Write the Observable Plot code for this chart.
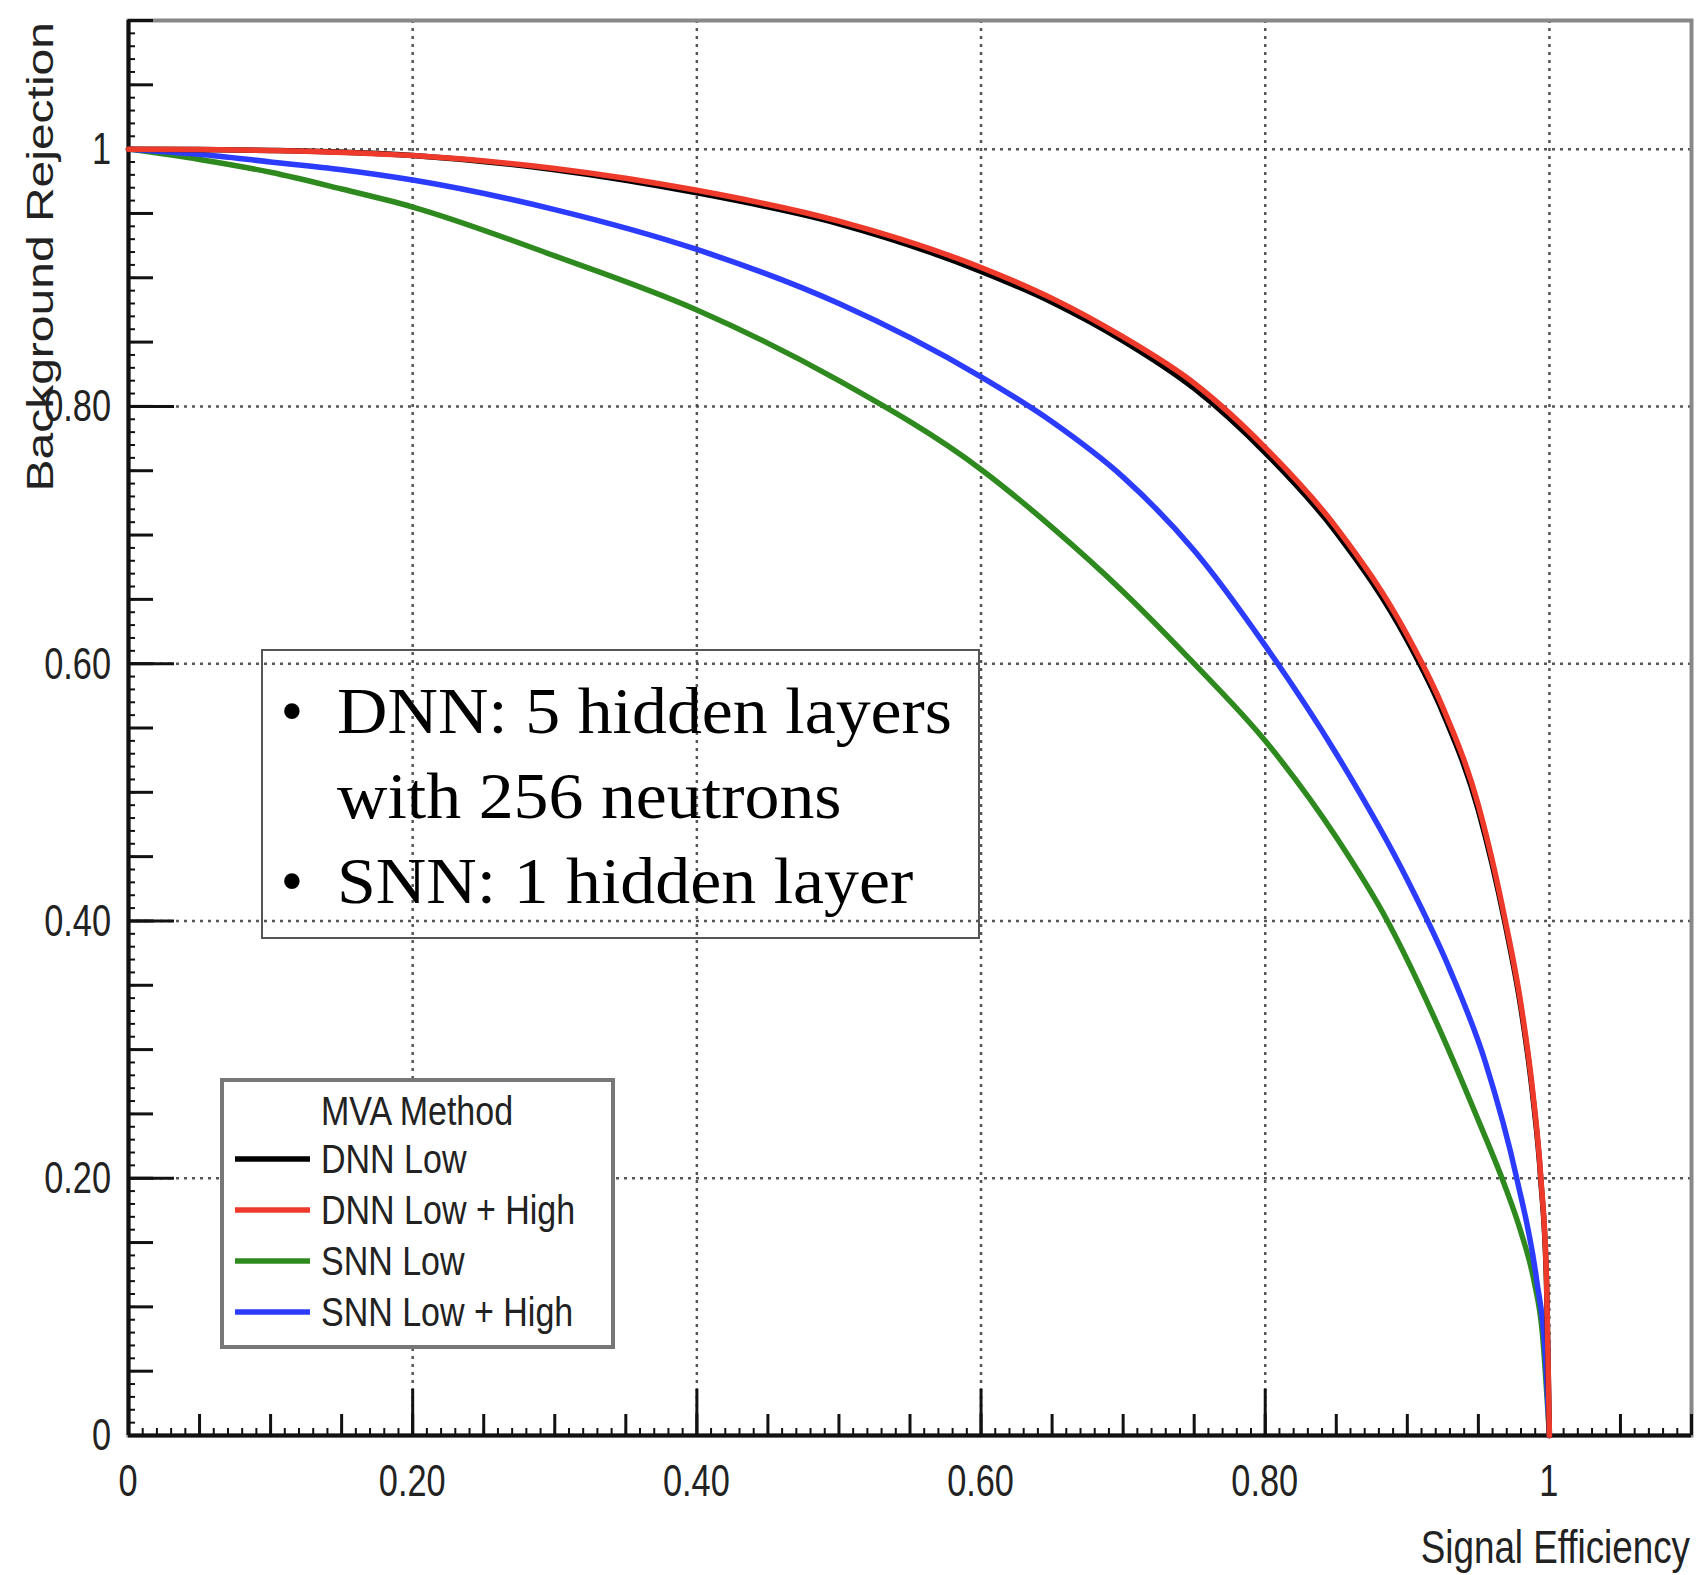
<!DOCTYPE html>
<html>
<head>
<meta charset="utf-8">
<script src="https://cdn.jsdelivr.net/npm/d3@7"></script>
<script src="https://cdn.jsdelivr.net/npm/@observablehq/plot@0.6"></script>
<style>
  html, body { margin: 0; padding: 0; background: #fff; }
  #chart { width: 1696px; height: 1575px; }
</style>
</head>
<body>
<div id="chart"></div>
<script>
// ---- data ----
const seriesNames = ["SNN Low", "SNN Low + High", "DNN Low", "DNN Low + High"];
const seriesColors = ["#2e8a1e", "#2b3cff", "#000000", "#ee3a2a"];
const legendOrder = ["DNN Low", "DNN Low + High", "SNN Low", "SNN Low + High"];
const legendTitle = "MVA Method";

const effDNNLow  = [0, 0.05, 0.10, 0.20, 0.30, 0.40, 0.50, 0.60, 0.65, 0.70, 0.75, 0.80, 0.85, 0.90, 0.925, 0.95, 0.969, 0.98, 0.988, 0.994, 0.998, 1.0];
const rejDNNLow  = [1.0, 0.9998, 0.999, 0.995, 0.984, 0.966, 0.942, 0.905, 0.881, 0.851, 0.814, 0.764, 0.702, 0.618, 0.562, 0.486, 0.397, 0.332, 0.267, 0.198, 0.118, 0.0];
const effDNNHigh = [0, 0.05, 0.10, 0.20, 0.30, 0.40, 0.50, 0.60, 0.65, 0.70, 0.75, 0.80, 0.85, 0.90, 0.925, 0.95, 0.969, 0.98, 0.988, 0.994, 0.998, 1.0];
const rejDNNHigh = [1.0, 0.9998, 0.999, 0.995, 0.985, 0.968, 0.944, 0.908, 0.884, 0.854, 0.818, 0.768, 0.706, 0.622, 0.566, 0.490, 0.400, 0.335, 0.270, 0.200, 0.120, 0.0];
const effSNNLow  = [0, 0.05, 0.10, 0.15, 0.20, 0.30, 0.40, 0.50, 0.60, 0.65, 0.70, 0.75, 0.80, 0.85, 0.886, 0.923, 0.95, 0.968, 0.98, 0.989, 0.995, 1.0];
const rejSNNLow  = [1.0, 0.992, 0.982, 0.969, 0.955, 0.917, 0.875, 0.820, 0.751, 0.706, 0.656, 0.600, 0.540, 0.465, 0.400, 0.315, 0.245, 0.196, 0.158, 0.121, 0.080, 0.0];
const effSNNHigh = [0, 0.05, 0.10, 0.15, 0.20, 0.30, 0.40, 0.50, 0.60, 0.65, 0.70, 0.75, 0.80, 0.85, 0.90, 0.93, 0.955, 0.977, 0.991, 0.997, 1.0];
const rejSNNHigh = [1.0, 0.996, 0.990, 0.984, 0.976, 0.953, 0.922, 0.880, 0.823, 0.788, 0.745, 0.688, 0.614, 0.530, 0.432, 0.362, 0.290, 0.200, 0.121, 0.065, 0.0];

const xTickValues = [0, 0.2, 0.4, 0.6, 0.8, 1.0];
const xTickLabels = ["0", "0.20", "0.40", "0.60", "0.80", "1"];
const yTickValues = [0, 0.2, 0.4, 0.6, 0.8, 1.0];
const yTickLabels = ["0", "0.20", "0.40", "0.60", "0.80", "1"];
const xTitle = "Signal Efficiency";
const yTitle = "Background Rejection";
const noteLines = [
  {bullet: true,  text: "DNN: 5 hidden layers"},
  {bullet: false, text: "with 256 neutrons"},
  {bullet: true,  text: "SNN: 1 hidden layer"}
];

// ---- build table ----
const curves = [
  [seriesNames[0], effSNNLow, rejSNNLow],
  [seriesNames[1], effSNNHigh, rejSNNHigh],
  [seriesNames[2], effDNNLow, rejDNNLow],
  [seriesNames[3], effDNNHigh, rejDNNHigh]
];
const rows = curves.flatMap(([name, xs, ys]) => xs.map((x, i) => ({series: name, eff: x, rej: ys[i]})));

const W = 1696, H = 1575;
const mL = 128, mT = 20, mR = 5, mB = 140;
const sec = d3.range(0, 1.1001, 0.05);
const minor = d3.range(0, 1.1001, 0.01);
const gridX = xTickValues.filter(d => d > 0);
const gridY = yTickValues.filter(d => d > 0);
const SANS = "'Liberation Sans', Arial, sans-serif";
const SERIF = "'Liberation Serif', 'Times New Roman', serif";

const chart = Plot.plot({
  width: W, height: H,
  marginLeft: mL, marginTop: mT, marginRight: mR, marginBottom: mB,
  style: {fontFamily: SANS, background: "#fff", overflow: "visible"},
  x: {domain: [0, 1.1], axis: null},
  y: {domain: [0, 1.1], axis: null},
  color: {domain: seriesNames, range: seriesColors},
  marks: [
    Plot.gridX(gridX, {stroke: "#444", strokeOpacity: 0.9, strokeWidth: 2.5, strokeDasharray: "3,5"}),
    Plot.gridY(gridY, {stroke: "#444", strokeOpacity: 0.9, strokeWidth: 2.5, strokeDasharray: "3,5"}),
    Plot.frame({stroke: "#888", strokeWidth: 4}),
    // inward ticks
    Plot.axisX(minor, {anchor: "bottom", tickSize: -7, stroke: "#111", strokeWidth: 2, fill: "none", label: null}),
    Plot.axisX(sec, {anchor: "bottom", tickSize: -21, stroke: "#111", strokeWidth: 3, fill: "none", label: null}),
    Plot.axisX(xTickValues, {anchor: "bottom", tickSize: -46, stroke: "#111", strokeWidth: 3, fill: "none", label: null}),
    Plot.axisY(minor, {anchor: "left", tickSize: -7, stroke: "#111", strokeWidth: 2, fill: "none", label: null}),
    Plot.axisY(sec, {anchor: "left", tickSize: -25, stroke: "#111", strokeWidth: 3, fill: "none", label: null}),
    Plot.axisY(yTickValues, {anchor: "left", tickSize: -46, stroke: "#111", strokeWidth: 3, fill: "none", label: null}),
    Plot.ruleY([0], {stroke: "#111", strokeWidth: 4}),
    Plot.ruleX([0], {stroke: "#111", strokeWidth: 4}),
    Plot.line(rows, {x: "eff", y: "rej", z: "series", stroke: "series", strokeWidth: 5.5, curve: "monotone-x"})
  ]
});
document.getElementById("chart").appendChild(chart);

const svg = d3.select(chart);
const xs = chart.scale("x"), ys = chart.scale("y");

// ---- tick labels (horizontally squeezed, like the reference) ----
const labels = svg.append("g").attr("font-family", SANS).attr("fill", "#222").attr("font-size", 44);
xTickValues.forEach((v, i) => {
  labels.append("text")
    .attr("transform", `translate(${xs.apply(v)},${H - mB + 30}) scale(0.78,1)`)
    .attr("text-anchor", "middle").attr("dy", "0.71em").text(xTickLabels[i]);
});
yTickValues.forEach((v, i) => {
  labels.append("text")
    .attr("transform", `translate(${mL - 17},${ys.apply(v)}) scale(0.78,1)`)
    .attr("text-anchor", "end").attr("dy", "0.35em").text(yTickLabels[i]);
});

// ---- axis titles ----
svg.append("text")
  .attr("transform", `translate(${W - 6},${1547}) scale(0.8,1)`)
  .attr("text-anchor", "end").attr("dy", "0.35em").attr("font-family", SANS)
  .attr("font-size", 46).attr("fill", "#222").text(xTitle);
svg.append("text")
  .attr("transform", `translate(40,${mT + 2}) rotate(-90) scale(1,0.76)`)
  .attr("text-anchor", "end").attr("dy", "0.35em").attr("font-family", SANS)
  .attr("font-size", 48).attr("fill", "#222").text(yTitle);

// ---- note box ----
const note = svg.append("g").attr("font-family", SERIF).attr("font-size", 65).attr("fill", "#000");
note.append("rect").attr("x", 262).attr("y", 650).attr("width", 717).attr("height", 288)
  .attr("fill", "none").attr("stroke", "#555").attr("stroke-width", 2);
noteLines.forEach((ln, i) => {
  const base = 733 + i * 85;
  if (ln.bullet) note.append("text").attr("x", 292).attr("y", base).attr("text-anchor", "middle").text("•");
  note.append("text").attr("transform", `translate(337,${base}) scale(1.075,1)`)
    .attr("text-anchor", "start").text(ln.text);
});

// ---- legend ----
const leg = svg.append("g").attr("font-family", SANS).attr("font-size", 40).attr("fill", "#222");
leg.append("rect").attr("x", 222).attr("y", 1080).attr("width", 391).attr("height", 267)
  .attr("fill", "#fff").attr("stroke", "#777").attr("stroke-width", 4);
leg.append("text").attr("transform", `translate(321,1111) scale(0.85,1)`).attr("dy", "0.35em")
  .attr("text-anchor", "start").text(legendTitle);
legendOrder.forEach((name, i) => {
  const cy = 1159 + i * 51;
  const col = seriesColors[seriesNames.indexOf(name)];
  leg.append("line").attr("x1", 235).attr("x2", 310).attr("y1", cy).attr("y2", cy)
    .attr("stroke", col).attr("stroke-width", 5.5);
  leg.append("text").attr("transform", `translate(321,${cy}) scale(0.85,1)`).attr("dy", "0.35em")
    .attr("text-anchor", "start").text(name);
});
</script>
</body>
</html>
